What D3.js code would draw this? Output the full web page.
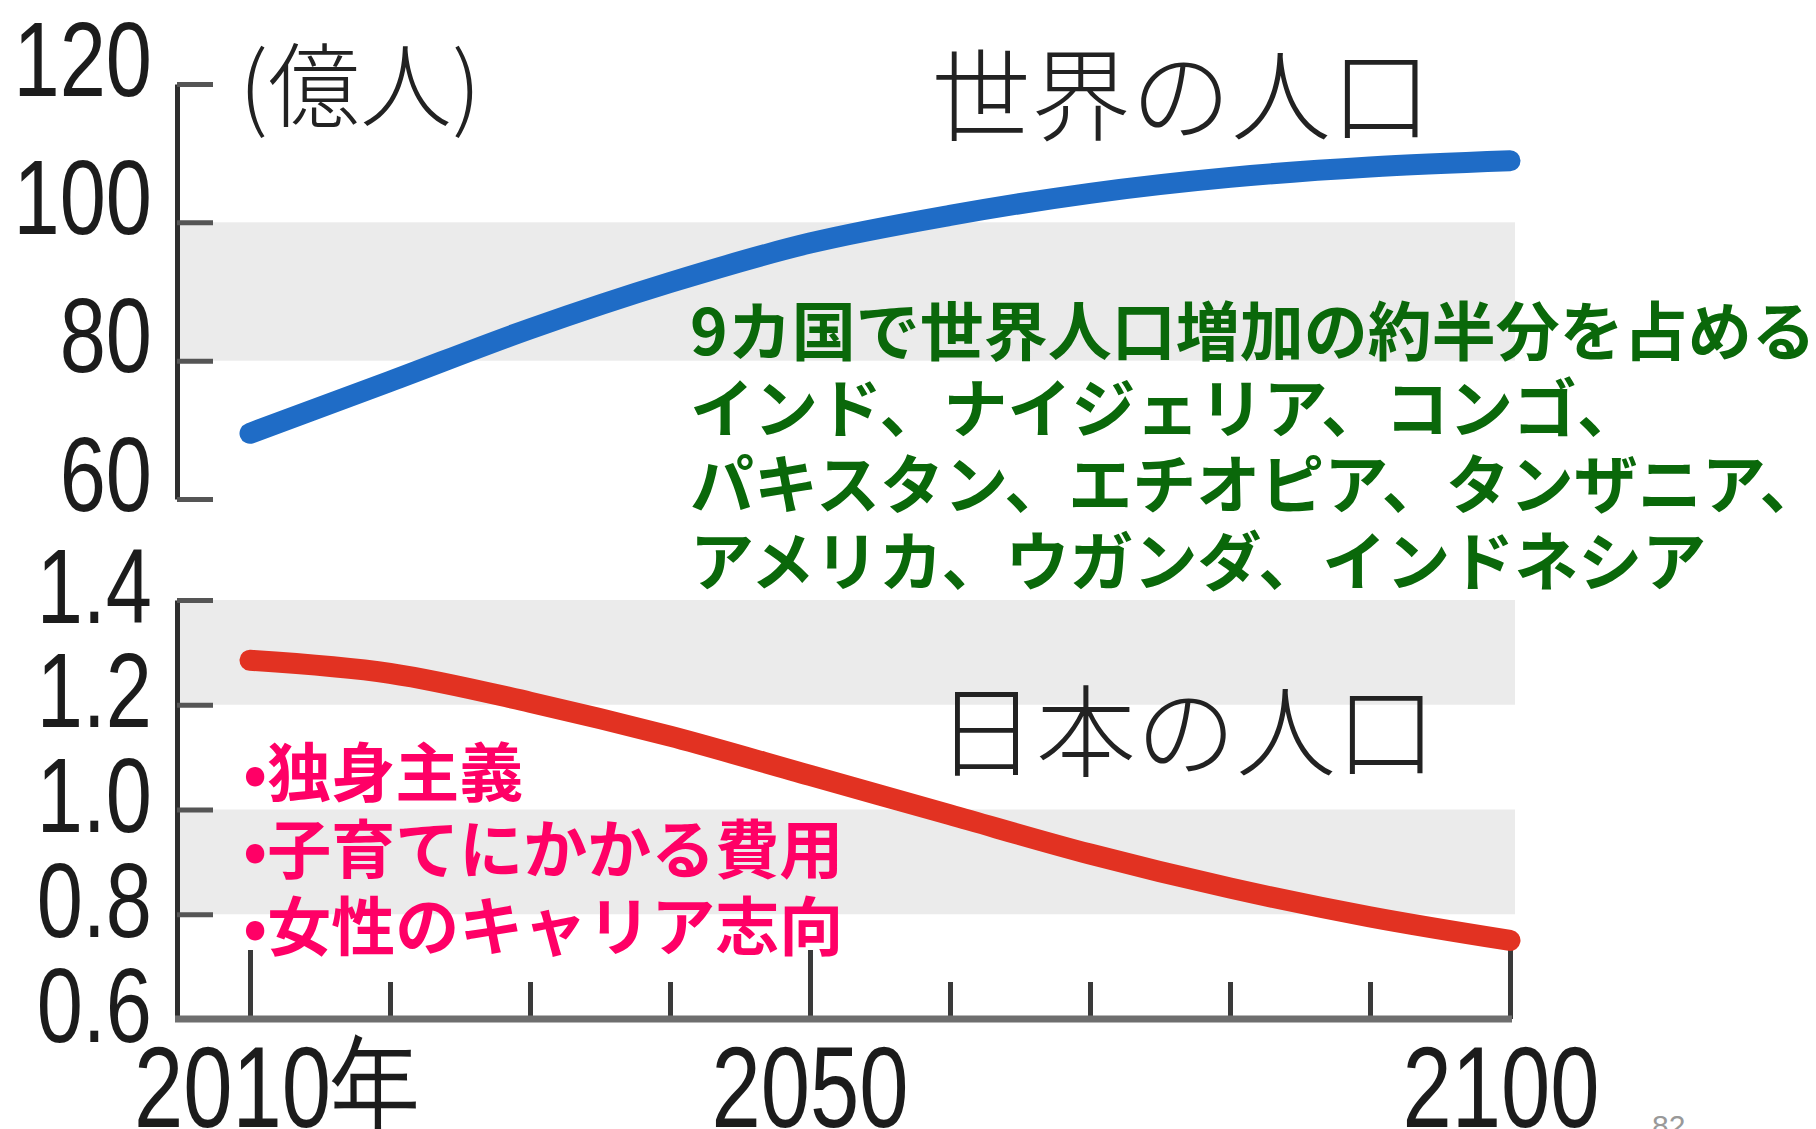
<!DOCTYPE html>
<html>
<head>
<meta charset="utf-8">
<script src="https://cdn.jsdelivr.net/npm/d3@7"></script>
<style>
  html, body { margin: 0; padding: 0; background: #ffffff; }
  svg { display: block; }
</style>
</head>
<body>
<svg id="chart" width="1816" height="1129"></svg>
<script>
// ---------------- data ----------------
const years = [2010, 2020, 2030, 2040, 2050, 2060, 2070, 2080, 2090, 2100];
const worldPop = [69.5, 77.0, 84.6, 91.3, 97.0, 101.0, 104.2, 106.5, 108.0, 108.9]; // 億人
const japanPop = [1.285, 1.26, 1.205, 1.14, 1.065, 0.99, 0.915, 0.85, 0.795, 0.75]; // 億人

const worldTicks = [60, 80, 100, 120];
const japanTicks = [0.6, 0.8, 1.0, 1.2, 1.4];
const japanTickLabels = ["0.6", "0.8", "1.0", "1.2", "1.4"];
const worldBands = [[80, 100]];
const japanBands = [[1.2, 1.4], [0.8, 1.0]];

const majorYears = [2010, 2050, 2100];
const majorYearLabels = ["2010年", "2050", "2100"];

const unitLabel = "(億人)";
const worldTitle = "世界の人口";
const japanTitle = "日本の人口";
const greenLines = [
  "9カ国で世界人口増加の約半分を占める",
  "インド、ナイジェリア、コンゴ、",
  "パキスタン、エチオピア、タンザニア、",
  "アメリカ、ウガンダ、インドネシア"
];
const pinkLines = ["•独身主義", "•子育てにかかる費用", "•女性のキャリア志向"];
const pageNumber = "82";

// ---------------- layout ----------------
const svg = d3.select("#chart");
const axisX = 177;
const x = d3.scaleLinear().domain([2010, 2100]).range([250, 1510]);
const yTop = d3.scaleLinear().domain([60, 120]).range([499, 84]);
const yBot = d3.scaleLinear().domain([0.6, 1.4]).range([1019, 600]);

const numFont = "'Liberation Sans', Arial, sans-serif";
const jpFont = "'Noto Sans CJK JP', 'Noto Sans CJK SC', sans-serif";
const bandRight = x(2100) + 5;

// bands
function drawBands(bands, y) {
  svg.append("g").selectAll("rect").data(bands).join("rect")
    .attr("x", axisX)
    .attr("width", bandRight - axisX)
    .attr("y", d => y(d[1]))
    .attr("height", d => y(d[0]) - y(d[1]))
    .attr("fill", "#ebebeb");
}
drawBands(worldBands, yTop);
drawBands(japanBands, yBot);

// y axes
function drawYAxis(y, ticks, fmt, labelDy) {
  const ax = d3.axisLeft(y).tickValues(ticks).tickSizeInner(-36).tickSizeOuter(0).tickFormat(fmt);
  const g = svg.append("g").attr("transform", `translate(${axisX},0)`).call(ax);
  g.select(".domain").attr("stroke", "#2e2e2e").attr("stroke-width", 5);
  g.selectAll(".tick line").attr("stroke", "#555").attr("stroke-width", 5);
  g.selectAll(".tick text")
    .attr("x", null).attr("dy", null).attr("y", null)
    .attr("text-anchor", "end")
    .attr("font-family", numFont)
    .attr("font-size", 105)
    .attr("fill", "#1c1c1c")
    .attr("transform", `translate(-25,${labelDy}) scale(0.79,1)`);
  return g;
}
drawYAxis(yTop, worldTicks, d => String(d), 11);
drawYAxis(yBot, japanTicks, (d, i) => japanTickLabels[i], 22);

// x axis (bottom)
const xAxis = d3.axisBottom(x).tickValues(years).tickSizeOuter(0).tickSizeInner(0).tickFormat("");
const gx = svg.append("g").attr("transform", `translate(0,${yBot(0.6)})`).call(xAxis);
gx.select(".domain").remove();
gx.append("line").attr("x1", axisX - 2).attr("x2", x(2100) + 2)
  .attr("y1", 0).attr("y2", 0).attr("stroke", "#6e6e6e").attr("stroke-width", 7);
gx.selectAll(".tick line")
  .attr("y2", d => majorYears.includes(d) ? -69 : -37)
  .attr("stroke", "#3a3a3a").attr("stroke-width", 5);
gx.selectAll(".tick text").remove();

// x labels
svg.append("g").selectAll("text").data(majorYears).join("text")
  .attr("transform", (d, i) => i === 0
      ? `translate(${x(d) - 116},1127) scale(0.77,1)`
      : `translate(${x(d) - (i === 2 ? 9 : 0)},1127) scale(0.77,1)`)
  .attr("text-anchor", (d, i) => i === 0 ? "start" : "middle")
  .attr("font-family", numFont)
  .attr("font-size", 115)
  .attr("fill", "#1c1c1c")
  .text((d, i) => majorYearLabels[i]);

// lines
const lineTop = d3.line().x((d, i) => x(years[i])).y(d => yTop(d)).curve(d3.curveMonotoneX);
const lineBot = d3.line().x((d, i) => x(years[i])).y(d => yBot(d)).curve(d3.curveMonotoneX);

svg.append("path").datum(worldPop).attr("d", lineTop)
  .attr("fill", "none").attr("stroke", "#1f6cc6").attr("stroke-width", 21)
  .attr("stroke-linecap", "round");
svg.append("path").datum(japanPop).attr("d", lineBot)
  .attr("fill", "none").attr("stroke", "#e23222").attr("stroke-width", 21)
  .attr("stroke-linecap", "round");

// titles
svg.append("text").attr("x", 239).attr("y", 120)
  .attr("font-family", jpFont).attr("font-size", 92).attr("font-weight", 300)
  .attr("fill", "#222").text(unitLabel);
svg.append("text").attr("x", 931).attr("y", 133)
  .attr("font-family", jpFont).attr("font-size", 100).attr("font-weight", 300)
  .attr("fill", "#222").text(worldTitle);
svg.append("text").attr("x", 936).attr("y", 769)
  .attr("font-family", jpFont).attr("font-size", 100).attr("font-weight", 300)
  .attr("fill", "#222").text(japanTitle);

// green annotation
svg.append("g").selectAll("text").data(greenLines).join("text")
  .attr("x", 690)
  .attr("y", (d, i) => 355 + i * 76.7)
  .attr("font-family", jpFont).attr("font-size", 64).attr("font-weight", 700)
  .attr("fill", "#0a680a")
  .text(d => d);

// pink annotation
svg.append("g").selectAll("text").data(pinkLines).join("text")
  .attr("x", 243)
  .attr("y", (d, i) => 796 + i * 77)
  .attr("font-family", jpFont).attr("font-size", 64).attr("font-weight", 700)
  .attr("fill", "#ff0066")
  .text(d => d);

// page number
svg.append("text").attr("x", 1652).attr("y", 1136)
  .attr("font-family", numFont).attr("font-size", 30)
  .attr("fill", "#999").text(pageNumber);
</script>
</body>
</html>
